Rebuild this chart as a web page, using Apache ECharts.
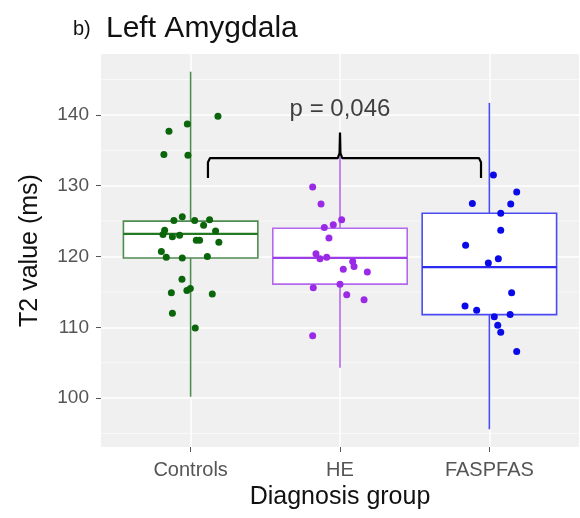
<!DOCTYPE html>
<html>
<head>
<meta charset="utf-8">
<script src="https://cdn.jsdelivr.net/npm/echarts@6/dist/echarts.min.js"></script>
<style>
html,body{margin:0;padding:0;background:#fff;}
#chart{width:580px;height:518px;}
</style>
</head>
<body>
<div id="chart"></div>
<script>
// ---- data ----
var categories = ['Controls', 'HE', 'FASPFAS'];
var yTicks = [100, 110, 120, 130, 140];
var yMinorTicks = [95, 105, 115, 125, 135, 145];

// box statistics (per category)
var boxLow    = [100.2, 104.3, 95.6];
var boxQ1     = [119.8, 116.1, 111.8];
var boxMedian = [123.2, 119.8, 118.5];
var boxQ3     = [125.0, 124.0, 126.1];
var boxHigh   = [146.1, 134.1, 141.7];

// jittered observations
var controlsValues = [139.8,138.7,137.7,134.4,134.3,125.1,125.6,125.1,125.2,124.4,123.7,123.1,122.8,123.0,123.6,122.3,122.3,122.0,120.7,119.9,119.8,120.0,116.8,114.9,115.2,115.5,114.7,112.0,109.9];
var controlsJitter = [0.183,-0.022,-0.145,-0.179,-0.018,-0.112,-0.056,0.027,0.127,0.087,-0.174,-0.185,-0.122,-0.074,0.167,0.038,0.060,0.189,-0.196,-0.163,-0.056,0.112,-0.058,-0.129,-0.025,-0.002,0.145,-0.122,0.031];
var heValues = [129.8,127.4,125.2,124.5,124.1,122.6,120.4,119.7,119.9,119.3,118.6,118.2,117.8,115.6,116.1,114.6,113.9,108.8];
var heJitter = [-0.183,-0.127,0.011,-0.045,-0.105,-0.074,-0.161,-0.134,-0.089,0.085,0.094,0.022,0.183,-0.179,0,0.045,0.161,-0.183];
var faspfasValues = [131.5,129.1,127.5,127.4,126.1,123.7,121.6,119.7,119.1,114.9,113.0,112.4,111.5,111.8,110.3,109.3,106.6];
var faspfasJitter = [0.027,0.183,-0.114,0.143,0.076,0.076,-0.159,0.060,-0.007,0.149,-0.163,-0.085,0.033,0.139,0.056,0.076,0.183];

// significance bracket (data coordinates)
var bracketX = [1.116, 1.116, 1.13, 1.985, 1.997, 2.0, 2.003, 2.015, 2.93, 2.944, 2.944];
var bracketY = [131.1, 133.3, 133.9, 133.9, 134.6, 137.5, 134.6, 133.9, 133.9, 133.3, 131.1];
var pLabel = 'p = 0,046';
var pLabelPos = [2.0, 140.8];

// ---- styles ----
var pointColors = ['#0b650b', '#9a2ae6', '#0a0ae8'];
var boxColors = ['#4f8c4f', '#b368ee', '#4b4bf2'];
var medianColors = ['#237a23', '#9c3ee8', '#2a2af0'];
var FONT = '"Liberation Sans", Arial, Helvetica, sans-serif';

var boxData = categories.map(function (c, i) {
  return [i + 1, boxLow[i], boxQ1[i], boxMedian[i], boxQ3[i], boxHigh[i]];
});
function jitterData(values, jitter, idx) {
  return values.map(function (v, i) { return [idx + 1 + jitter[i], v]; });
}
var bracketData = bracketX.map(function (x, i) { return [x, bracketY[i]]; });

function renderBox(params, api) {
  var i = params.dataIndex;
  var x = api.value(0);
  var cx = api.coord([x, 0])[0];
  var left = api.coord([x - 0.45, 0])[0];
  var right = api.coord([x + 0.45, 0])[0];
  var yLo = api.coord([x, api.value(1)])[1];
  var yQ1 = api.coord([x, api.value(2)])[1];
  var yMed = api.coord([x, api.value(3)])[1];
  var yQ3 = api.coord([x, api.value(4)])[1];
  var yHi = api.coord([x, api.value(5)])[1];
  var col = boxColors[i];
  return {
    type: 'group',
    children: [
      {type: 'line', shape: {x1: cx, y1: yHi, x2: cx, y2: yQ3}, style: {stroke: col, lineWidth: 1.6}},
      {type: 'line', shape: {x1: cx, y1: yQ1, x2: cx, y2: yLo}, style: {stroke: col, lineWidth: 1.6}},
      {type: 'rect', shape: {x: left, y: yQ3, width: right - left, height: yQ1 - yQ3}, style: {fill: '#ffffff', stroke: col, lineWidth: 1.6}},
      {type: 'line', shape: {x1: left, y1: yMed, x2: right, y2: yMed}, style: {stroke: medianColors[i], lineWidth: 2.2}}
    ]
  };
}

function renderMinor(params, api) {
  var y = api.coord([1, api.value(0)])[1];
  var x0 = params.coordSys.x;
  var x1 = params.coordSys.x + params.coordSys.width;
  return {type: 'line', shape: {x1: x0, y1: y, x2: x1, y2: y}, style: {stroke: '#fbfbfb', lineWidth: 0.8}};
}

var chart = echarts.init(document.getElementById('chart'), null, {renderer: 'canvas'});
chart.setOption({
  animation: false,
  backgroundColor: '#ffffff',
  title: [
    {text: 'b)', left: 68, top: 14, textStyle: {fontFamily: FONT, fontSize: 20, fontWeight: 'normal', color: '#111'}},
    {text: 'Left Amygdala', left: 101, top: 9, textStyle: {fontFamily: FONT, fontSize: 30, fontWeight: 'normal', color: '#111'}}
  ],
  grid: {left: 101, top: 54, width: 478, height: 393, show: true, backgroundColor: '#f0f0f0', borderWidth: 0},
  xAxis: {
    type: 'value', min: 0.4, max: 3.6,
    name: 'Diagnosis group', nameLocation: 'middle', nameGap: 38,
    nameTextStyle: {fontFamily: FONT, fontSize: 25, color: '#111'},
    axisLine: {show: false},
    axisTick: {show: true, length: 5, customValues: [1, 2, 3], lineStyle: {color: '#555', width: 1}},
    axisLabel: {customValues: [1, 2, 3], margin: 13, fontFamily: FONT, fontSize: 20, color: '#555',
      formatter: function (v) { return categories[Math.round(v) - 1] || ''; }},
    splitLine: {show: true, lineStyle: {color: '#ffffff', width: 1.5}}
  },
  yAxis: {
    type: 'value', min: 93.1, max: 148.6,
    name: 'T2 value (ms)', nameLocation: 'middle', nameGap: 58,
    nameTextStyle: {fontFamily: FONT, fontSize: 25, color: '#111'},
    axisLine: {show: false},
    axisTick: {show: true, length: 5, customValues: yTicks, lineStyle: {color: '#555', width: 1}},
    axisLabel: {customValues: yTicks, margin: 12, fontFamily: FONT, fontSize: 19, color: '#555'},
    splitLine: {show: true, lineStyle: {color: '#ffffff', width: 1.5}}
  },
  series: [
    {type: 'custom', name: 'minor', z: 1, silent: true, data: yMinorTicks.map(function (v) { return [v]; }),
      encode: {y: 0}, renderItem: renderMinor},
    {type: 'custom', name: 'boxes', z: 2, data: boxData, encode: {x: 0, y: [1, 2, 3, 4, 5]}, renderItem: renderBox},
    {type: 'scatter', name: 'Controls', z: 3, symbolSize: 7, itemStyle: {color: pointColors[0], opacity: 1}, data: jitterData(controlsValues, controlsJitter, 0)},
    {type: 'scatter', name: 'HE', z: 3, symbolSize: 7, itemStyle: {color: pointColors[1], opacity: 1}, data: jitterData(heValues, heJitter, 1)},
    {type: 'scatter', name: 'FASPFAS', z: 3, symbolSize: 7, itemStyle: {color: pointColors[2], opacity: 1}, data: jitterData(faspfasValues, faspfasJitter, 2)},
    {type: 'line', name: 'bracket', z: 4, showSymbol: false, symbol: 'none', data: bracketData,
      lineStyle: {color: '#000', width: 2.2}},
    {type: 'scatter', name: 'pvalue', z: 4, symbolSize: 0, data: [pLabelPos],
      label: {show: true, position: 'inside', formatter: pLabel, fontFamily: FONT, fontSize: 24, color: '#111'}}
  ]
});
</script>
</body>
</html>
